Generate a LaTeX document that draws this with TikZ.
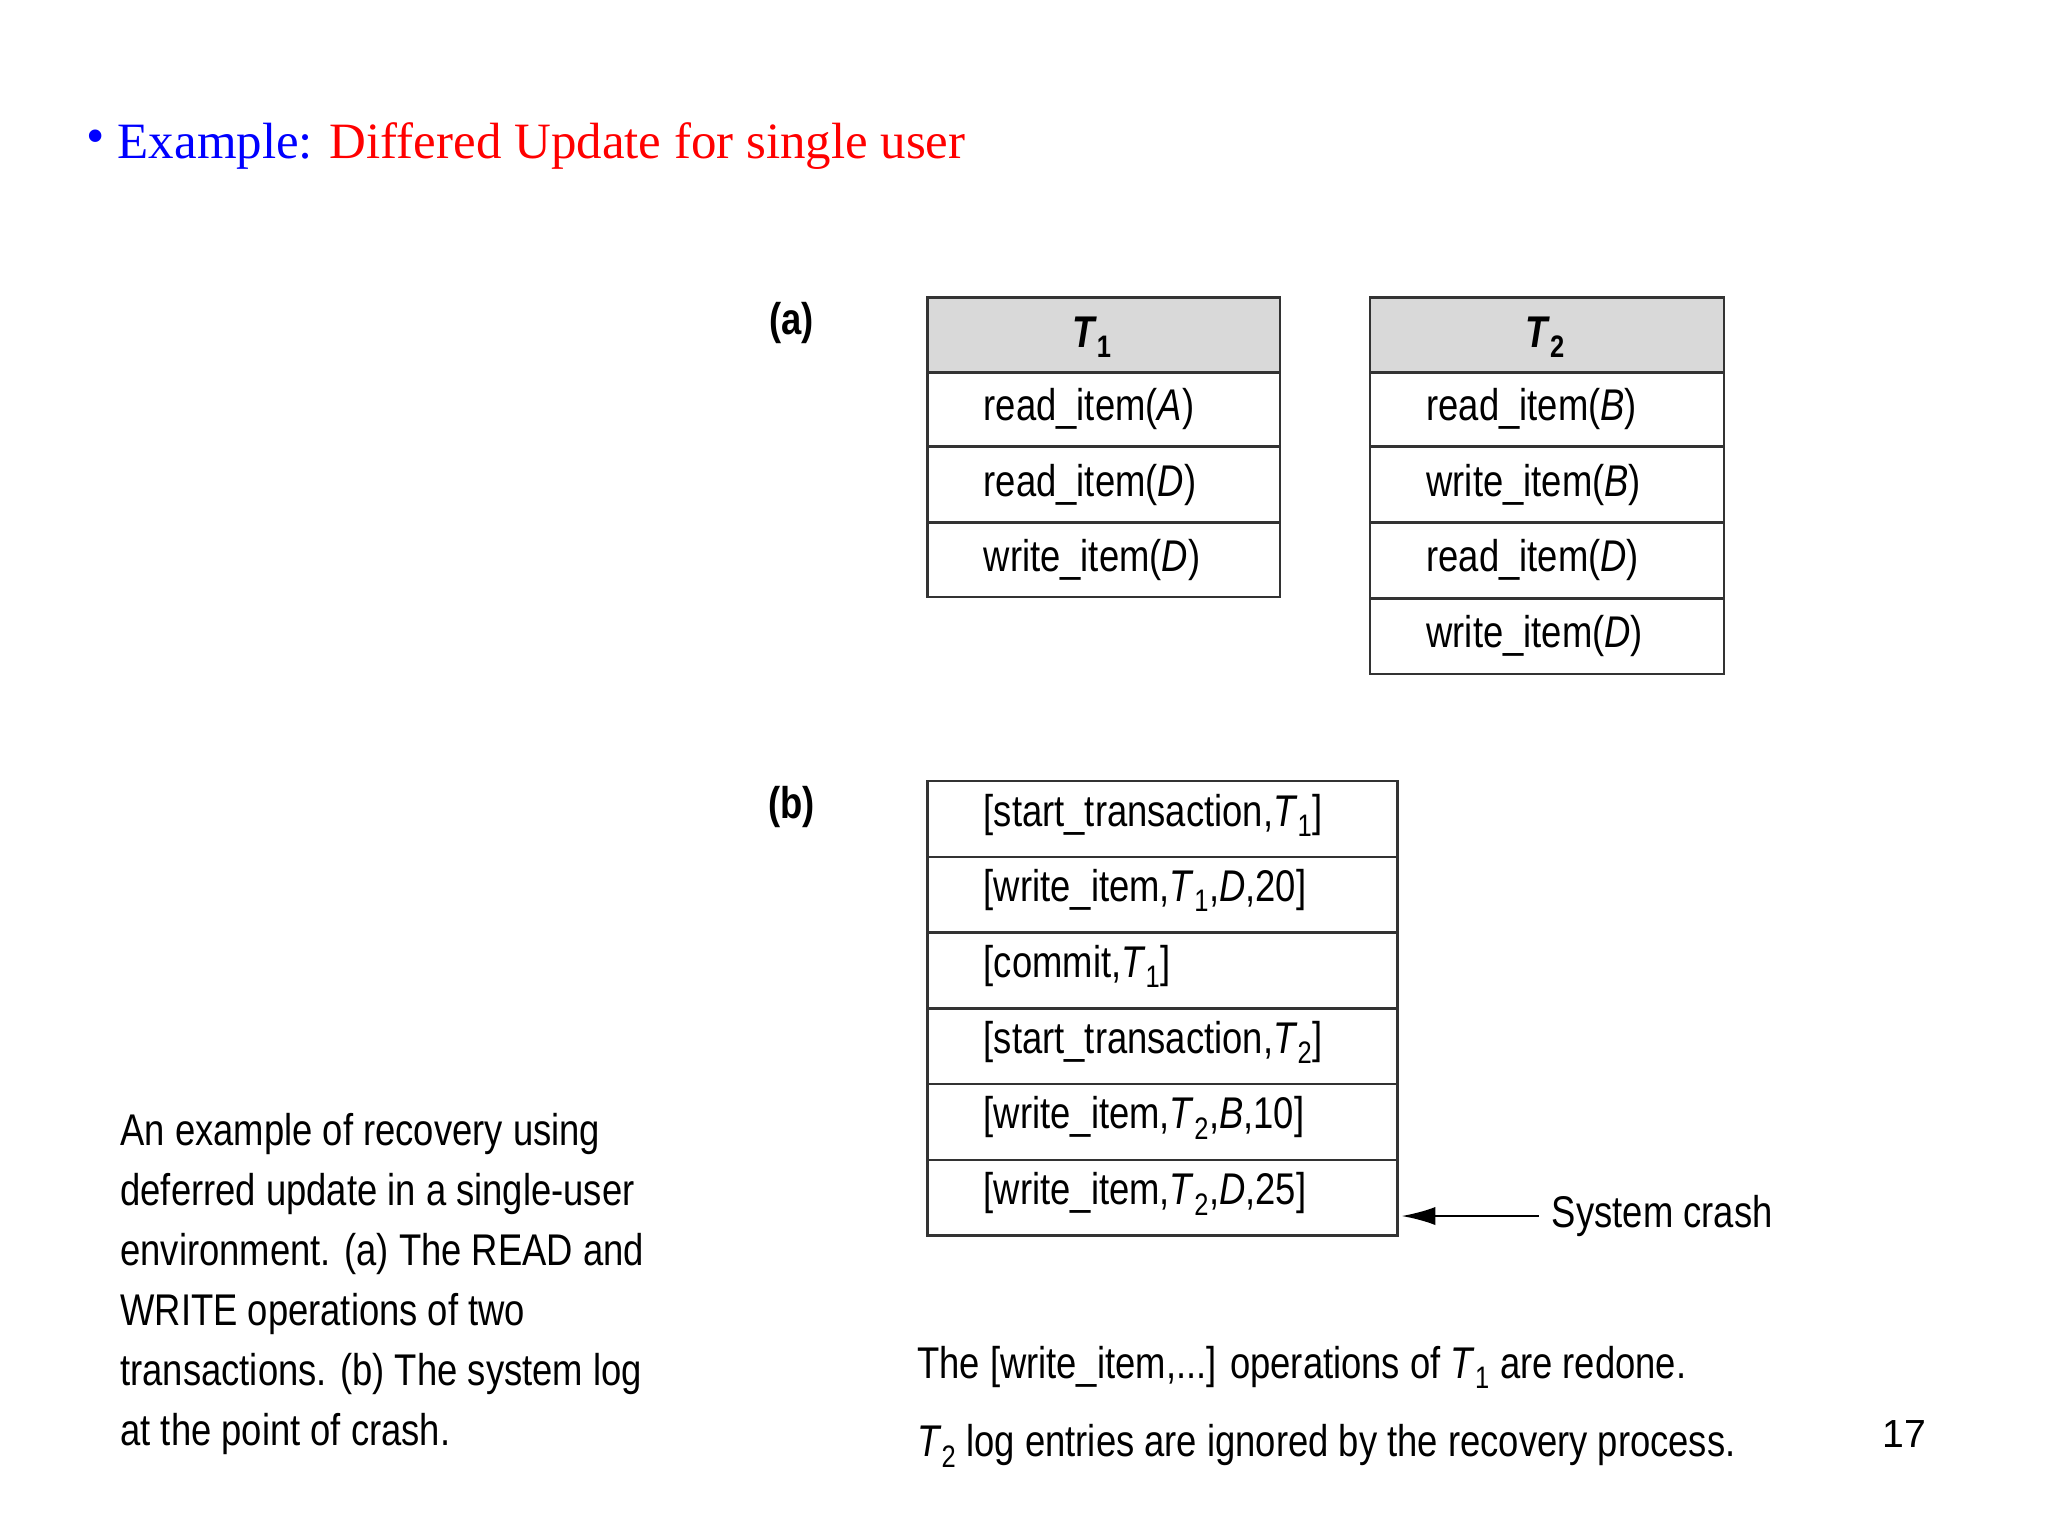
\documentclass[tikz,border=0pt]{standalone}
\usepackage{fontspec}
\usetikzlibrary{arrows.meta}
\setmainfont{Liberation Serif}
\newfontfamily\cond[FakeStretch=0.82]{Liberation Sans}
\newfontfamily\arial{Liberation Sans}
\begin{document}
\begin{tikzpicture}[x=1pt,y=-1pt,
  cell/.style={draw=black!80,line width=2pt},
  hdr/.style={cell,fill=black!15},
  txt/.style={anchor=west,inner sep=0pt,font=\cond\fontsize{34}{40}\selectfont},
  lbl/.style={anchor=center,inner sep=0pt,font=\cond\bfseries\fontsize{34}{40}\selectfont}]
\useasboundingbox (0,0) rectangle (1568,1176);
\node[anchor=west,inner sep=0pt,font=\fontsize{39}{44}\selectfont] (title) at (66,112)
 {\textcolor{blue}{\fontsize{40}{30}\selectfont\raisebox{4pt}{•}}\hspace{10pt}\textcolor{blue}{Example:} \textcolor{red}{Differed Update for single user}};
\node[lbl] (la) at (606,247) {(a)};
\node[lbl] (lb) at (606,618) {(b)};
% T1
\draw[hdr] (710,228) rectangle (980,285);
\node[lbl] (t1) at (836,258) {\textit{T}\textsubscript{1}};
\foreach \a/\b/\t [count=\i] in {285/342/{read\_item(\textit{A})},342/400/{read\_item(\textit{D})},400/457/{write\_item(\textit{D})}}{
  \draw[cell] (710,\a) rectangle (980,\b);
  \node[txt] (ta\i) at (753,{(\a+\b)/2}) {\t};}
% T2
\draw[hdr] (1049,228) rectangle (1320,285);
\node[lbl] (t2) at (1183,258) {\textit{T}\textsubscript{2}};
\foreach \a/\b/\t [count=\i] in {285/342/{read\_item(\textit{B})},342/400/{write\_item(\textit{B})},400/458/{read\_item(\textit{D})},458/516/{write\_item(\textit{D})}}{
  \draw[cell] (1049,\a) rectangle (1320,\b);
  \node[txt] (tb\i) at (1092,{(\a+\b)/2}) {\t};}
% log
\foreach \a/\b/\t [count=\i] in {
 598/656/{[start\_transaction,\textit{T}\textsubscript{1}]},
 656/714/{[write\_item,\textit{T}\textsubscript{1},\textit{D},20]},
 714/772/{[commit,\textit{T}\textsubscript{1}]},
 772/830/{[start\_transaction,\textit{T}\textsubscript{2}]},
 830/888/{[write\_item,\textit{T}\textsubscript{2},\textit{B},10]},
 888/946/{[write\_item,\textit{T}\textsubscript{2},\textit{D},25]}}{
  \draw[cell] (710,\a) rectangle (1070,\b);
  \node[txt] (lg\i) at (753,{(\a+\b)/2-3}) {\t};}
\coordinate (crashpt) at (1073,931);
\coordinate (crashst) at (1178,931);
\node[txt] (crash) at (1188,931) {System crash};
\draw[line width=2pt,-{Latex[length=26pt,width=14pt]}] (crashst) -- (crashpt);
% caption
\node[anchor=north west,inner sep=0pt,align=left,font=\cond\fontsize{34}{46}\selectfont] (cap) at (92,852)
 {An example of recovery using\\deferred update in a single-user\\environment. (a) The READ and\\WRITE operations of two\\transactions. (b) The system log\\at the point of crash.};
\node[txt] (n1) at (702,1047) {The [write\_item,...] operations of \textit{T}\textsubscript{1} are redone.};
\node[txt] (n2) at (702,1107) {\textit{T}\textsubscript{2} log entries are ignored by the recovery process.};
\node[anchor=center,inner sep=0pt,font=\arial\fontsize{30}{34}\selectfont] (pg) at (1458,1098) {17};
\end{tikzpicture}
\end{document}
